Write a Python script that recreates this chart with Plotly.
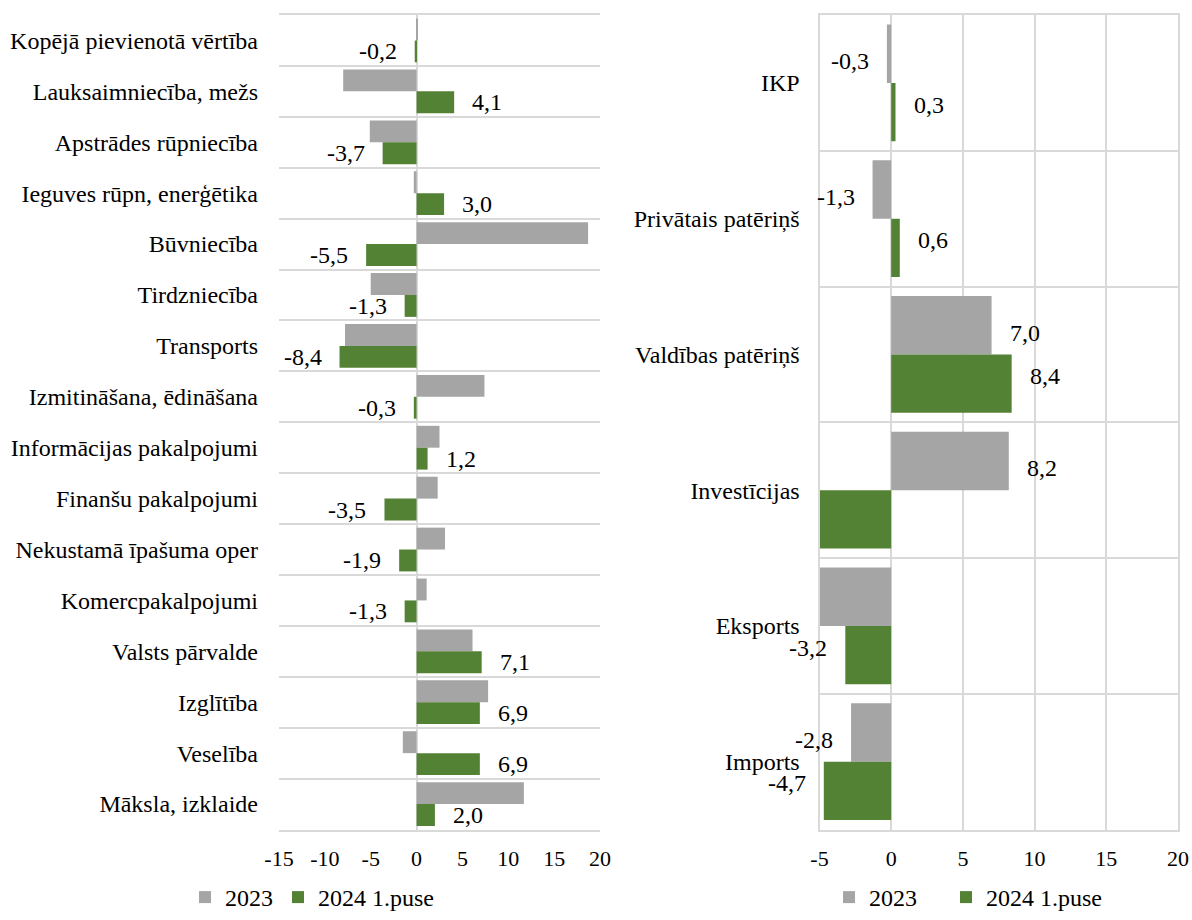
import plotly.graph_objects as go

# ---------------- data ----------------
sectors = [
    "Kopējā pievienotā vērtība", "Lauksaimniecība, mežs", "Apstrādes rūpniecība",
    "Ieguves rūpn, enerģētika", "Būvniecība", "Tirdzniecība", "Transports",
    "Izmitināšana, ēdināšana", "Informācijas pakalpojumi", "Finanšu pakalpojumi",
    "Nekustamā īpašuma oper", "Komercpakalpojumi", "Valsts pārvalde", "Izglītība",
    "Veselība", "Māksla, izklaide",
]
sect_2023 = [0.1, -8.0, -5.1, -0.3, 18.7, -5.0, -7.8, 7.4, 2.5, 2.3, 3.1, 1.1, 6.1, 7.8, -1.5, 11.7]
sect_2024h1 = [-0.2, 4.1, -3.7, 3.0, -5.5, -1.3, -8.4, -0.3, 1.2, -3.5, -1.9, -1.3, 7.1, 6.9, 6.9, 2.0]

demand = ["IKP", "Privātais patēriņš", "Valdības patēriņš", "Investīcijas", "Eksports", "Imports"]
dem_2023 = [-0.3, -1.3, 7.0, 8.2, -6.4, -2.8]
dem_2024h1 = [0.3, 0.6, 8.4, -6.0, -3.2, -4.7]

series_names = ["2023", "2024 1.puse"]
left_ticks = [-15, -10, -5, 0, 5, 10, 15, 20]
right_ticks = [-5, 0, 5, 10, 15, 20]

# ---------------- style ----------------
W, H = 1192, 920
GRAY = "#a5a5a5"
GREEN = "#548235"
GRID = "#d9d9d9"
FONT = "Liberation Serif, Times New Roman, serif"
PLOT_TOP, PLOT_BOTTOM = 15, 829.5
LEFT_DOM = [279 / W, 600 / W]
RIGHT_DOM = [819.5 / W, 1178 / W]
Y_DOM = [1 - PLOT_BOTTOM / H, 1 - PLOT_TOP / H]
GAP_L = 0.14
GAP_R = 0.36
NB = "\u00a0"


def fmt(v):
    return f"{v:.1f}".replace(".", ",")


fig = go.Figure()
for name, vals, col in [(series_names[0], sect_2023, GRAY), (series_names[1], sect_2024h1, GREEN)]:
    fig.add_trace(go.Bar(
        y=sectors, x=vals, orientation="h", name=name, marker_color=col,
        marker_line_width=0, xaxis="x", yaxis="y", legend="legend",
        hoverinfo="x+y",
    ))
for name, vals, col, pad in [(series_names[0], dem_2023, GRAY, NB * 4),
                             (series_names[1], dem_2024h1, GREEN, "")]:
    fig.add_trace(go.Bar(
        y=demand, x=vals, orientation="h", name=name + pad, marker_color=col,
        marker_line_width=0, xaxis="x2", yaxis="y2", legend="legend2",
        hoverinfo="x+y",
    ))

annotations = []


def add_labels(vals, cats, xref, yref, side, gap, xmin):
    off = (1 - gap) / 4 * side
    for i, v in enumerate(vals):
        if v < xmin:
            continue
        annotations.append(dict(
            x=v, y=i + off, xref=xref, yref=yref, text=fmt(v), showarrow=False,
            xanchor="right" if v < 0 else "left", xshift=-16 if v < 0 else 16,
            font=dict(family=FONT, size=24, color="#000000"),
        ))


add_labels(sect_2024h1, sectors, "x", "y", 1, GAP_L, left_ticks[0])
add_labels(dem_2023, demand, "x2", "y2", -1, GAP_R, right_ticks[0])
add_labels(dem_2024h1, demand, "x2", "y2", 1, GAP_R, right_ticks[0])

fig.update_layout(
    width=W, height=H,
    margin=dict(l=0, r=0, t=0, b=0, autoexpand=False),
    paper_bgcolor="white", plot_bgcolor="white",
    font=dict(family=FONT, size=24, color="#000000"),
    barmode="group", bargap=GAP_L, bargroupgap=0,
    xaxis=dict(
        domain=LEFT_DOM, anchor="y", range=[left_ticks[0], left_ticks[-1]],
        tickvals=left_ticks, ticktext=[str(t) for t in left_ticks],
        showgrid=False, zeroline=True, zerolinecolor=GRID, zerolinewidth=2,
        showline=True, mirror=True, linecolor=GRID, linewidth=2,
        ticks="", tickfont=dict(size=22), ticklabelstandoff=8, automargin=False,
        fixedrange=True,
    ),
    yaxis=dict(
        domain=Y_DOM, anchor="x", type="category", categoryorder="array",
        categoryarray=sectors, range=[len(sectors) - 0.5, -0.5],
        tickson="boundaries", showgrid=True, gridcolor=GRID, gridwidth=2,
        showline=False, ticks="", ticklabelstandoff=20, automargin=False,
        tickfont=dict(size=24), fixedrange=True,
    ),
    xaxis2=dict(
        domain=RIGHT_DOM, anchor="y2", range=[right_ticks[0], right_ticks[-1]],
        tickvals=right_ticks, ticktext=[str(t) for t in right_ticks],
        showgrid=True, gridcolor=GRID, gridwidth=2,
        zeroline=True, zerolinecolor=GRID, zerolinewidth=2,
        showline=True, mirror=True, linecolor=GRID, linewidth=2,
        ticks="", tickfont=dict(size=22), ticklabelstandoff=8, automargin=False,
        fixedrange=True,
    ),
    yaxis2=dict(
        domain=Y_DOM, anchor="x2", type="category", categoryorder="array",
        categoryarray=demand, range=[len(demand) - 0.5, -0.5],
        tickson="boundaries", showgrid=True, gridcolor=GRID, gridwidth=2,
        showline=True, mirror=True, linecolor=GRID, linewidth=2,
        ticks="", ticklabelstandoff=13, automargin=False,
        tickfont=dict(size=24), fixedrange=True,
    ),
    legend=dict(
        orientation="h", x=312 / W, xanchor="center", y=0, yanchor="bottom",
        font=dict(size=24), bgcolor="rgba(0,0,0,0)",
    ),
    legend2=dict(
        orientation="h", x=968 / W, xanchor="center", y=0, yanchor="bottom",
        font=dict(size=24), bgcolor="rgba(0,0,0,0)",
    ),
    annotations=annotations,
    showlegend=True,
)

page_css = (
    "var d=document.documentElement.style;d.margin='0';d.padding='0';"
    "d.overflow='hidden';"
    "var b=document.body.style;b.margin='0';b.padding='0';b.overflow='hidden';"
    "b.fontSize='0';b.lineHeight='0';"
)

fig.write_html(
    "out.html",
    config={"displayModeBar": False},
    post_script=page_css,
)
